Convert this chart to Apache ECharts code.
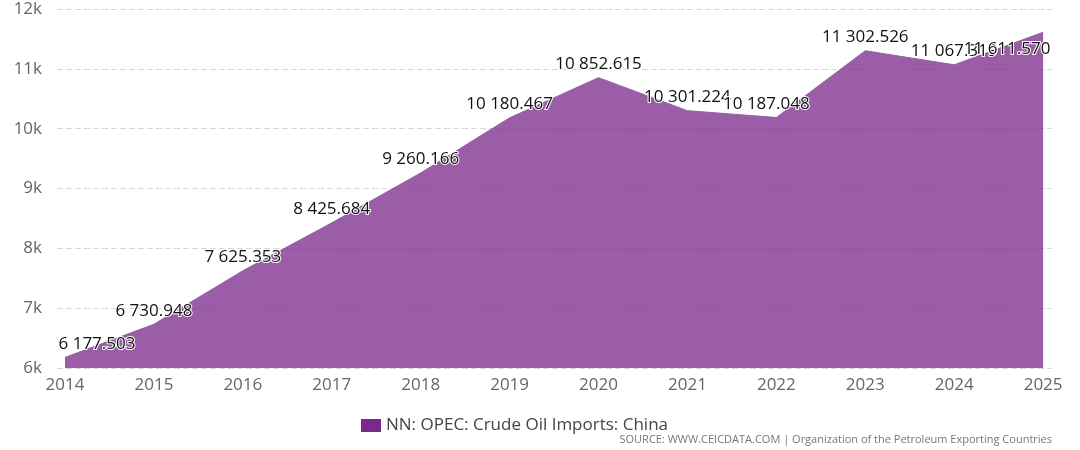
<!DOCTYPE html>
<html>
<head>
<meta charset="utf-8">
<script src="https://cdn.jsdelivr.net/npm/echarts@6/dist/echarts.min.js"></script>
<style>
  html, body { margin: 0; padding: 0; background: #fff; }
  #main { width: 1080px; height: 450px; }
</style>
</head>
<body>
<div id="main"></div>
<script>
var years = [2014, 2015, 2016, 2017, 2018, 2019, 2020, 2021, 2022, 2023, 2024, 2025];
var imports = [6177.503, 6730.948, 7625.353, 8425.684, 9260.166, 10180.467,
               10852.615, 10301.224, 10187.048, 11302.526, 11067.319, 11611.570];
var yTicks = [6000, 7000, 8000, 9000, 10000, 11000, 12000];

function fmt(v) {
    var parts = v.toFixed(3).split('.');
    return parts[0].replace(/\B(?=(\d{3})+(?!\d))/g, ' ') + '.' + parts[1];
}

// nudges for labels that sit against the edges or a neighbour
function nudge(params) {
    var i = params.dataIndex;
    var out = { hideOverlap: false };
    if (i === 0) { out.dx = 32; }
    if (i === 8) { out.dx = -10; }
    if (i === years.length - 1) { out.dx = -36; out.dy = 30; }
    return out;
}

var myChart = echarts.init(document.getElementById('main'));

var option = {
    animation: false,
    textStyle: { fontFamily: 'Open Sans' },
    grid: { left: 57, right: 28, top: 9, bottom: 82 },
    legend: {
        data: ['NN: OPEC: Crude Oil Imports: China'],
        left: 356,
        top: 412,
        icon: 'rect',
        itemWidth: 20,
        itemHeight: 13,
        itemGap: 6,
        textStyle: { color: '#444', fontSize: 17, fontFamily: 'Open Sans' }
    },
    graphic: [{
        type: 'text',
        right: 28,
        top: 434,
        style: {
            text: 'SOURCE: WWW.CEICDATA.COM | Organization of the Petroleum Exporting Countries',
            fill: '#777',
            font: '11px "Open Sans"'
        }
    }],
    xAxis: {
        type: 'value',
        min: 2013.91,
        max: 2025.1,
        splitLine: { show: false },
        axisLine: { show: false },
        axisTick: { show: false },
        axisLabel: {
            customValues: years,
            color: '#666',
            fontSize: 17,
            margin: 9,
            formatter: function (v) { return String(v); }
        }
    },
    yAxis: {
        type: 'value',
        min: 6000,
        max: 12000,
        interval: 1000,
        axisLine: { show: false },
        axisTick: { show: false },
        splitLine: { lineStyle: { color: '#d8d8d8', type: [6, 3] } },
        axisLabel: {
            customValues: yTicks,
            color: '#666',
            fontSize: 17,
            margin: 15,
            formatter: function (v) { return (v / 1000) + 'k'; }
        }
    },
    series: [{
        name: 'NN: OPEC: Crude Oil Imports: China',
        type: 'line',
        data: years.map(function (y, i) { return [y, imports[i]]; }),
        symbol: 'circle',
        symbolSize: 0.1,
        showSymbol: true,
        color: '#7b2a8b',
        lineStyle: { width: 1, color: '#9360a0' },
        areaStyle: { color: '#7b2a8b', opacity: 0.76 },
        labelLayout: nudge,
        label: {
            show: true,
            position: 'top',
            distance: 5,
            color: '#111',
            fontSize: 17,
            fontFamily: 'Open Sans',
            textBorderColor: '#fff',
            textBorderWidth: 2,
            formatter: function (p) { return fmt(p.value[1]); }
        }
    }]
};

myChart.setOption(option);
</script>
</body>
</html>
